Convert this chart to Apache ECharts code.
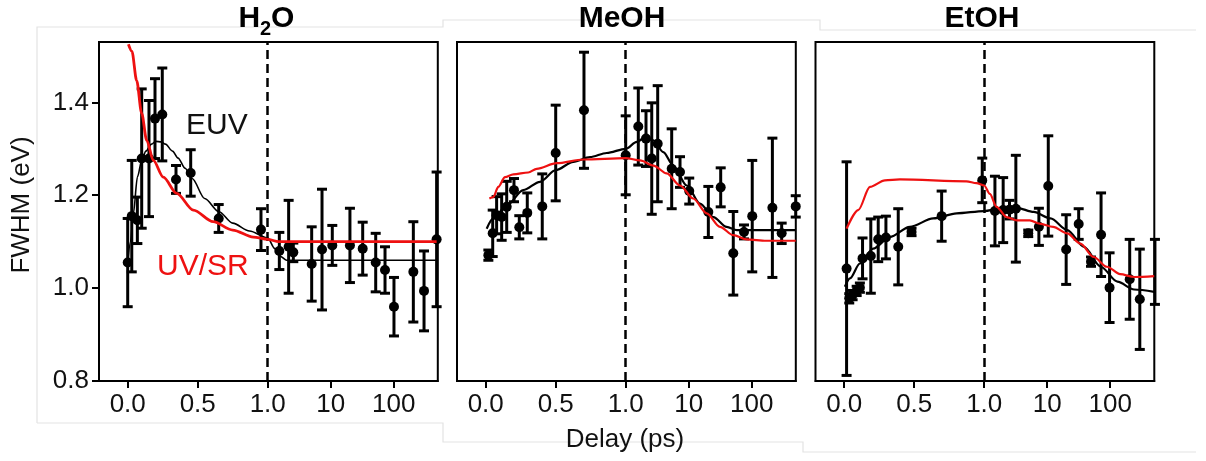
<!DOCTYPE html>
<html lang="en">
<head>
    <meta charset="UTF-8">
    <title>FWHM vs delay</title>
    <script src="https://cdn.jsdelivr.net/npm/echarts@6/dist/echarts.min.js"></script>
    <style>
        html, body { margin: 0; padding: 0; background: #fff; }
        #chart { width: 1206px; height: 461px; }
    </style>
</head>
<body>
<div id="chart"></div>
<script>
// ---- data (delay in ps, FWHM in eV) ----
var h2oDelay = [0.0, 0.029, 0.069, 0.10, 0.152, 0.195, 0.247, 0.345, 0.45, 0.65, 0.952,
    1.53, 2.15, 2.55, 4.99, 7.28, 10.6, 20.2, 32.2, 51.8, 72.8, 101, 205, 303, 480];
var h2oFwhm = [1.055, 1.155, 1.146, 1.279, 1.279, 1.365, 1.374, 1.234, 1.248, 1.150, 1.126,
    1.080, 1.089, 1.077, 1.052, 1.083, 1.092, 1.092, 1.085, 1.055, 1.039, 0.960, 1.035, 0.994, 1.105];
var h2oErr = [0.095, 0.12, 0.05, 0.15, 0.125, 0.086, 0.10, 0.03, 0.05, 0.03, 0.045,
    0.04, 0.10, 0.02, 0.08, 0.13, 0.043, 0.08, 0.057, 0.063, 0.05, 0.063, 0.108, 0.086, 0.145];
var h2oEuvT = [0, 0.02, 0.04, 0.07, 0.1, 0.13, 0.17, 0.2, 0.24, 0.27, 0.32, 0.36, 0.41, 0.46,
    0.55, 0.65, 0.75, 0.87, 1.0, 1.3, 1.6, 2.0, 480];
var h2oEuvV = [1.05, 1.10, 1.16, 1.24, 1.275, 1.295, 1.31, 1.316, 1.315, 1.31, 1.295, 1.28, 1.258, 1.236,
    1.193, 1.165, 1.14, 1.123, 1.108, 1.085, 1.068, 1.06, 1.06];
var h2oUvT = [0.005, 0.03, 0.064, 0.1, 0.136, 0.183, 0.254, 0.35, 0.469, 0.61, 0.75, 0.897, 1.0, 1.5, 480];
var h2oUvV = [1.525, 1.51, 1.447, 1.376, 1.318, 1.275, 1.239, 1.204, 1.168, 1.143, 1.125, 1.11, 1.105, 1.10, 1.10];

var meohDelay = [0.019, 0.05, 0.078, 0.114, 0.15, 0.202, 0.24, 0.297, 0.404, 0.5, 0.702, 1.0,
    1.585, 2.1, 2.59, 3.22, 5.37, 7.28, 10.2, 20.5, 32.2, 51, 75.5, 102, 213, 299, 500];
var meohFwhm = [1.071, 1.118, 1.157, 1.153, 1.175, 1.211, 1.131, 1.162, 1.176, 1.291, 1.383, 1.286,
    1.348, 1.322, 1.279, 1.311, 1.257, 1.25, 1.209, 1.164, 1.217, 1.075, 1.121, 1.155, 1.173, 1.118, 1.176];
var meohErr = [0.011, 0.05, 0.04, 0.05, 0.055, 0.025, 0.025, 0.043, 0.07, 0.103, 0.125, 0.085,
    0.083, 0.06, 0.12, 0.125, 0.086, 0.033, 0.028, 0.055, 0.042, 0.09, 0.015, 0.12, 0.15, 0.022, 0.023];
var meohEuvT = [0.007, 0.054, 0.15, 0.268, 0.388, 0.5, 0.626, 0.745, 0.864, 1.0, 1.5, 2.02, 2.75,
    3.95, 5.68, 9.3, 15.1, 24.6, 40, 58, 500];
var meohEuvV = [1.128, 1.15, 1.178, 1.211, 1.229, 1.254, 1.272, 1.282, 1.291, 1.30, 1.315, 1.324, 1.318,
    1.293, 1.264, 1.221, 1.182, 1.153, 1.132, 1.125, 1.125];
var meohUvT = [0.026, 0.054, 0.09, 0.138, 0.197, 0.304, 0.364, 0.507, 0.698, 1.0, 1.69, 2.75, 4.48,
    7.3, 11.8, 19.3, 31.3, 51, 83, 170, 500];
var meohUvV = [1.193, 1.196, 1.218, 1.239, 1.245, 1.249, 1.257, 1.269, 1.277, 1.28, 1.275, 1.264, 1.247,
    1.221, 1.193, 1.161, 1.132, 1.114, 1.105, 1.102, 1.102];

var etohDelay = [0.017, 0.036, 0.06, 0.089, 0.112, 0.131, 0.19, 0.243, 0.298, 0.386, 0.481, 0.696, 0.986,
    1.48, 2.0, 2.52, 3.18, 5.0, 7.38, 10.4, 20, 31.6, 49.6, 71.6, 97.7, 204, 295, 513];
var etohFwhm = [1.042, 0.978, 0.985, 0.994, 1.001, 1.064, 1.069, 1.105, 1.109, 1.089, 1.121, 1.155, 1.232,
    1.166, 1.168, 1.169, 1.171, 1.118, 1.132, 1.22, 1.083, 1.138, 1.057, 1.115, 1.001, 1.019, 0.976, 1.035];
var etohErr = [0.23, 0.01, 0.01, 0.01, 0.01, 0.044, 0.08, 0.048, 0.046, 0.082, 0.008, 0.054, 0.048,
    0.075, 0.07, 0.02, 0.115, 0.007, 0.04, 0.108, 0.075, 0.033, 0.01, 0.09, 0.075, 0.086, 0.108, 0.07];
var etohEuvT = [0.005, 0.041, 0.112, 0.207, 0.326, 0.469, 0.636, 0.803, 1.0, 1.78, 3.3, 6.1, 11.3,
    20.8, 38.4, 70.8, 130, 240, 500];
var etohEuvV = [1.003, 1.021, 1.053, 1.085, 1.11, 1.132, 1.15, 1.161, 1.166, 1.171, 1.173, 1.164, 1.15,
    1.125, 1.089, 1.046, 1.014, 0.997, 0.992];
var etohUvT = [0.017, 0.1, 0.184, 0.291, 0.398, 0.874, 0.945, 1.0, 1.23, 1.57, 2.27, 3.3, 5.3, 7.6,
    12.4, 20.8, 33.6, 54.7, 88.9, 144, 240, 500];
var etohUvV = [1.128, 1.168, 1.218, 1.232, 1.234, 1.23, 1.226, 1.221, 1.203, 1.175, 1.153, 1.146, 1.146, 1.139,
    1.132, 1.118, 1.096, 1.067, 1.046, 1.03, 1.024, 1.026];

var tickDelays = [0, 0.5, 1, 10, 100];
var tickLabels = ['0.0', '0.5', '1.0', '10', '100'];
var panelTitles = ['H2O', 'MeOH', 'EtOH'];

// split axis: linear 0..1 ps, then log10 above 1 ps (a decade is 0.9 of a 0.5 ps step)
function axisPos(t) {
    return t <= 1 ? t * 2 : 2 + 0.9 * Math.log10(t);
}

var panels = [
    { delay: h2oDelay, fwhm: h2oFwhm, err: h2oErr, euvT: h2oEuvT, euvV: h2oEuvV, uvT: h2oUvT, uvV: h2oUvV, left: 99 },
    { delay: meohDelay, fwhm: meohFwhm, err: meohErr, euvT: meohEuvT, euvV: meohEuvV, uvT: meohUvT, uvV: meohUvV, left: 457 },
    { delay: etohDelay, fwhm: etohFwhm, err: etohErr, euvT: etohEuvT, euvV: etohEuvV, uvT: etohUvT, uvV: etohUvV, left: 815.5 }
];

var X_MIN = -0.41, X_MAX = 4.43, PX = 70;
var tickPos = tickDelays.map(axisPos);
var FONT = 'Liberation Sans, Arial, sans-serif';

var chart = echarts.init(document.getElementById('chart'));

var grids = [], xAxes = [], yAxes = [], series = [];

panels.forEach(function (p, i) {
    grids.push({
        left: p.left, top: 42, width: (X_MAX - X_MIN) * PX, height: 339,
        show: true, borderColor: '#000', borderWidth: 2, backgroundColor: 'transparent'
    });
    xAxes.push({
        gridIndex: i, type: 'value', min: X_MIN, max: X_MAX,
        axisLine: { show: true, onZero: false, lineStyle: { color: '#000', width: 2 } },
        axisTick: { show: true, customValues: tickPos, length: 7, lineStyle: { color: '#000', width: 2 } },
        axisLabel: {
            customValues: tickPos, margin: 11, color: '#111', fontSize: 26, fontFamily: FONT,
            formatter: function (v) {
                var k = 0;
                tickPos.forEach(function (q, j) { if (Math.abs(q - v) < Math.abs(tickPos[k] - v)) k = j; });
                return tickLabels[k];
            }
        },
        splitLine: { show: false }
    });
    yAxes.push({
        gridIndex: i, type: 'value', min: 0.8, max: 1.53, interval: 0.2,
        axisLine: { show: i === 0, onZero: false, lineStyle: { color: '#000', width: 2 } },
        axisTick: { show: i === 0, length: 7, lineStyle: { color: '#000', width: 2 } },
        axisLabel: {
            show: i === 0, showMaxLabel: false, margin: 10, color: '#111', fontSize: 26, fontFamily: FONT,
            formatter: function (v) { return v.toFixed(1); }
        },
        splitLine: { show: false }
    });

    var errData = p.delay.map(function (t, j) {
        return [axisPos(t), p.fwhm[j], p.fwhm[j] - p.err[j], p.fwhm[j] + p.err[j]];
    });
    series.push({
        type: 'custom', xAxisIndex: i, yAxisIndex: i, z: 2,
        data: errData,
        encode: { x: 0, y: [2, 3] },
        renderItem: function (params, api) {
            var x = api.value(0);
            var lo = api.coord([x, api.value(2)]);
            var hi = api.coord([x, api.value(3)]);
            var cap = 5;
            var st = { stroke: '#000', lineWidth: 3, fill: null };
            return {
                type: 'group', children: [
                    { type: 'line', shape: { x1: lo[0], y1: lo[1], x2: hi[0], y2: hi[1] }, style: st },
                    { type: 'line', shape: { x1: lo[0] - cap, y1: lo[1], x2: lo[0] + cap, y2: lo[1] }, style: st },
                    { type: 'line', shape: { x1: hi[0] - cap, y1: hi[1], x2: hi[0] + cap, y2: hi[1] }, style: st }
                ]
            };
        },
        markLine: {
            silent: true, symbol: 'none', label: { show: false },
            lineStyle: { color: '#000', type: [9, 5], width: 2.5 },
            data: [{ xAxis: axisPos(1) }]
        }
    });
    series.push({
        type: 'scatter', xAxisIndex: i, yAxisIndex: i, z: 3,
        symbol: 'circle', symbolSize: 10,
        itemStyle: { color: '#000', opacity: 1 },
        data: p.delay.map(function (t, j) { return [axisPos(t), p.fwhm[j]]; })
    });
    series.push({
        type: 'line', xAxisIndex: i, yAxisIndex: i, z: 4,
        showSymbol: false, smooth: 0.3, smoothMonotone: 'x',
        lineStyle: { color: '#000', width: i === 0 ? 1.6 : 2.2 },
        data: p.euvT.map(function (t, j) { return [axisPos(t), p.euvV[j]]; })
    });
    series.push({
        type: 'line', xAxisIndex: i, yAxisIndex: i, z: 5,
        showSymbol: false, smooth: 0.3, smoothMonotone: 'x',
        lineStyle: { color: '#ee1111', width: i === 0 ? 2.8 : 2.2 },
        data: p.uvT.map(function (t, j) { return [axisPos(t), p.uvV[j]]; })
    });
});

var titleStyle = { fill: '#000', font: 'bold 30px ' + FONT, verticalAlign: 'middle' };
var faint = { stroke: '#e3e3e3', lineWidth: 1.2, fill: null };

var option = {
    animation: false,
    backgroundColor: '#fff',
    grid: grids,
    xAxis: xAxes,
    yAxis: yAxes,
    series: series,
    graphic: [
        // faint frame lines left over from the composed figure
        { type: 'polyline', shape: { points: [[37, 423], [37, 27], [443, 27], [443, 20], [820, 20], [820, 30], [1196, 30]] }, style: faint, silent: true },
        { type: 'polyline', shape: { points: [[37, 423], [443, 423], [443, 442], [803, 442], [803, 452], [1196, 452]] }, style: faint, silent: true },
        // titles
        { type: 'text', x: 238.5, y: 19, style: Object.assign({ text: 'H', align: 'left' }, titleStyle) },
        { type: 'text', x: 260, y: 29, style: { text: '2', fill: '#000', font: 'bold 20px ' + FONT, align: 'left', verticalAlign: 'middle' } },
        { type: 'text', x: 271, y: 19, style: Object.assign({ text: 'O', align: 'left' }, titleStyle) },
        { type: 'text', x: 622, y: 19, style: Object.assign({ text: panelTitles[1], align: 'center' }, titleStyle) },
        { type: 'text', x: 982, y: 19, style: Object.assign({ text: panelTitles[2], align: 'center' }, titleStyle) },
        // axis names
        { type: 'text', x: 22, y: 205, rotation: Math.PI / 2, style: { text: 'FWHM (eV)', fill: '#111', font: '26px ' + FONT, align: 'center', verticalAlign: 'middle' } },
        { type: 'text', x: 625, y: 440, style: { text: 'Delay (ps)', fill: '#111', font: '26px ' + FONT, align: 'center', verticalAlign: 'middle' } },
        // series labels
        { type: 'text', x: 186, y: 126, z: 10, style: { text: 'EUV', fill: '#111', font: '30px ' + FONT, align: 'left', verticalAlign: 'middle' } },
        { type: 'text', x: 157, y: 267, z: 10, style: { text: 'UV/SR', fill: '#ee1111', font: '30px ' + FONT, align: 'left', verticalAlign: 'middle' } }
    ]
};

chart.setOption(option);
</script>
</body>
</html>
